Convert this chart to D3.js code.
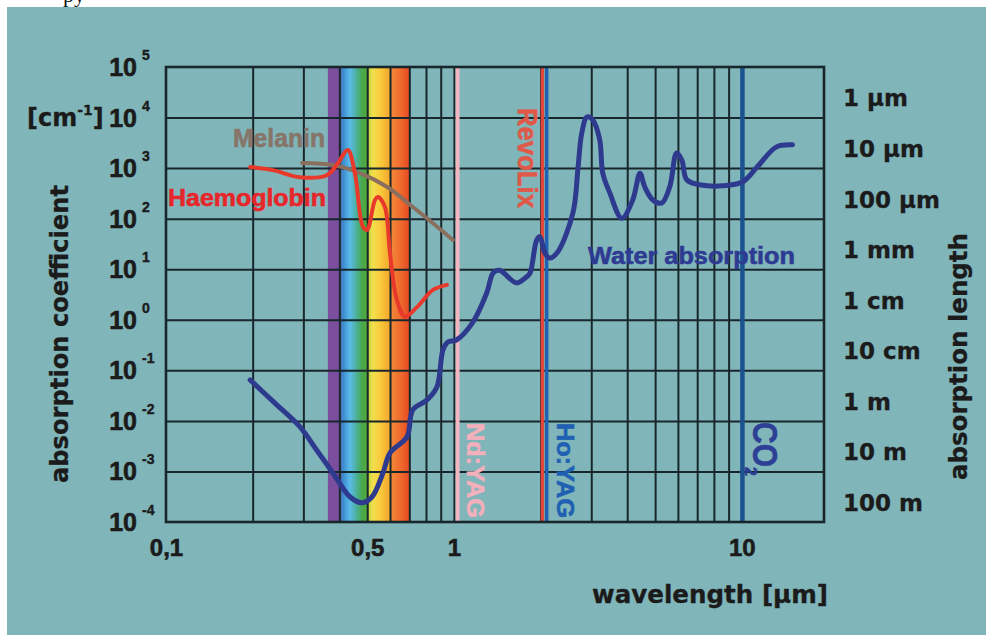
<!DOCTYPE html>
<html><head><meta charset="utf-8">
<script src="https://cdn.jsdelivr.net/npm/d3@7"></script>
<style>html,body{margin:0;padding:0;background:#fff}svg{display:block}</style>
</head><body>
<script>
// ---------------- DATA ----------------
const xTickValues = [0.1, 0.5, 1, 10];
const xTickLabels = ["0,1", "0,5", "1", "10"];
const yExponents = [5, 4, 3, 2, 1, 0, -1, -2, -3, -4];
const lengthValues = [1e4, 1e3, 1e2, 1e1, 1, 1e-1, 1e-2, 1e-3, 1e-4];
const lengthLabels = ["1 µm", "10 µm", "100 µm", "1 mm", "1 cm", "10 cm", "1 m", "10 m", "100 m"];
const gridXValues = [0.2,0.3,0.4,0.5,0.6,0.7,0.8,0.9,1,2,3,4,5,6,7,8,9,10];
const gridYValues = [1e-3,1e-2,1e-1,1,1e1,1e2,1e3,1e4];

// [wavelength µm, absorption coefficient cm^-1]
const water = [
  [0.196,0.0646],[0.239,0.0224],[0.292,0.00759],[0.334,0.00263],[0.38,0.000933],
  [0.435,0.000316],[0.48,0.00024],[0.52,0.000316],[0.567,0.000933],[0.60,0.00234],
  [0.687,0.00479],[0.72,0.0166],[0.805,0.0257],[0.873,0.0468],[0.916,0.251],
  [0.953,0.363],[1.02,0.398],[1.16,0.871],[1.30,3.39],[1.37,8.51],[1.44,9.55],
  [1.65,5.37],[1.79,7.08],[1.84,8.43],[1.94,38.0],[1.99,43.7],[2.07,20.9],
  [2.15,16.6],[2.28,20.9],[2.59,129],[2.70,1047],[2.78,4898],[2.90,10233],
  [3.04,8913],[3.21,3631],[3.29,794],[3.48,324],[3.83,102],[4.18,234],[4.43,794],
  [4.60,427],[4.91,234],[5.27,204],[5.62,427],[5.94,1995],[6.19,1445],[6.44,589],
  [7.15,468],[8.59,447],[10.07,537],[11.3,1047],[13.2,2630],[15.0,2884]
];
const haemoglobin = [
  [0.196,1047],[0.235,912],[0.292,661],[0.362,724],[0.396,1259],[0.428,2291],
  [0.453,794],[0.483,69.2],[0.499,60.3],[0.532,234],[0.545,269],[0.576,170],
  [0.60,20.9],[0.634,2.45],[0.676,1.15],[0.744,1.78],[0.846,3.89],[0.946,4.90]
];
const melanin = [
  [0.297,1259],[0.38,1148],[0.472,794],[0.585,427],[0.72,170],[0.846,81.3],[0.992,38.0]
];
const spectrumBands = [[0.365,0.40],[0.40,0.50],[0.50,0.60],[0.60,0.70]];
const laserNames = ["Nd:YAG", "RevoLix", "Ho:YAG", "CO2"];
const laserWavelengths = [1.03, 2.03, 2.10, 10.05];

// ---------------- LAYOUT / STYLE ----------------
const W = 986, H = 635;
const P = {left:166, right:824, top:67, bottom:522};
const BG = "#80b5ba", GRID = "#18272b";
const bandFills = ["#7b4f9d","url(#gBlue)","url(#gYellow)","url(#gRed)"];
const laserColors = ["#f2b6c0","#e2473a","#1f62b4","#1b5391"];
const laserWidths = [4, 3.5, 3.5, 4.5];

const x = d3.scaleLog().domain([0.1, 19.3]).range([P.left, P.right]);
const y = d3.scaleLog().domain([1e-4, 1e5]).range([P.bottom, P.top]);

const svg = d3.select("body").append("svg").attr("width", W).attr("height", H);

// cropped text artifact at the top
svg.append("text").attr("x", 63).attr("y", 2).attr("font-family", "Liberation Serif")
  .attr("font-size", 22).attr("fill", "#111").text("py");

svg.append("rect").attr("x", 7).attr("y", 7).attr("width", W - 7).attr("height", H - 7).attr("fill", BG);

// gradients
const defs = svg.append("defs");
function grad(id, stops) {
  const g = defs.append("linearGradient").attr("id", id).attr("x1", "0").attr("x2", "1").attr("y1", "0").attr("y2", "0");
  stops.forEach(s => g.append("stop").attr("offset", s[0]).attr("stop-color", s[1]));
}
grad("gBlue", [[0,"#5a5ea2"],[0.15,"#3d8fd2"],[0.38,"#5bbbe8"],[0.62,"#4bb09a"],[0.82,"#48a84c"],[1,"#55a83a"]]);
grad("gYellow", [[0,"#b9cf3e"],[0.25,"#f2e04c"],[0.6,"#f9c83a"],[1,"#f2a62c"]]);
grad("gRed", [[0,"#f28c3a"],[0.5,"#f06e2e"],[1,"#e64a22"]]);

// spectrum band
svg.append("g").selectAll("rect").data(spectrumBands).join("rect")
  .attr("x", d => x(d[0])).attr("width", d => x(d[1]) - x(d[0]))
  .attr("y", P.top).attr("height", P.bottom - P.top)
  .attr("fill", (d, i) => bandFills[i]);

// grid
const gx = svg.append("g").attr("transform", `translate(0,${P.bottom})`)
  .call(d3.axisBottom(x).tickValues(gridXValues).tickSize(-(P.bottom - P.top)).tickFormat(""));
gx.select(".domain").remove();
gx.selectAll("line").attr("stroke", GRID).attr("stroke-width", 2);
const gy = svg.append("g").attr("transform", `translate(${P.left},0)`)
  .call(d3.axisLeft(y).tickValues(gridYValues).tickSize(-(P.right - P.left)).tickFormat(""));
gy.select(".domain").remove();
gy.selectAll("line").attr("stroke", GRID).attr("stroke-width", 2);

// laser lines
svg.append("g").selectAll("line").data(laserWavelengths).join("line")
  .attr("x1", d => x(d)).attr("x2", d => x(d)).attr("y1", P.top).attr("y2", P.bottom)
  .attr("stroke", (d, i) => laserColors[i]).attr("stroke-width", (d, i) => laserWidths[i]);

// border
svg.append("rect").attr("x", P.left).attr("y", P.top).attr("width", P.right - P.left)
  .attr("height", P.bottom - P.top).attr("fill", "none").attr("stroke", GRID).attr("stroke-width", 2.6);

// curves
const line = d3.line().x(d => x(d[0])).y(d => y(d[1])).curve(d3.curveCatmullRom.alpha(0.5));
svg.append("path").datum(melanin).attr("d", line).attr("fill", "none")
  .attr("stroke", "#8a6f5e").attr("stroke-width", 4).attr("stroke-linecap", "round");
svg.append("path").datum(haemoglobin).attr("d", line).attr("fill", "none")
  .attr("stroke", "#e8392b").attr("stroke-width", 4).attr("stroke-linecap", "round").attr("stroke-linejoin", "round");
svg.append("path").datum(water).attr("d", line).attr("fill", "none")
  .attr("stroke", "#2d3a8e").attr("stroke-width", 5).attr("stroke-linecap", "round").attr("stroke-linejoin", "round");

// ---------------- TEXT ----------------
const SANS = "Liberation Sans, Arial, sans-serif";
const DJ = "DejaVu Sans, sans-serif";
function txt(g, opts) {
  const t = g.append("text").attr("font-weight", 700)
    .attr("font-family", opts.family || SANS).attr("font-size", opts.size)
    .attr("fill", opts.color || "#1b1b1b").attr("stroke", opts.color || "#1b1b1b")
    .attr("stroke-width", opts.sw == null ? 0.6 : opts.sw).attr("text-anchor", opts.anchor || "start");
  if (opts.transform) t.attr("transform", opts.transform); else t.attr("x", opts.x).attr("y", opts.y);
  if (opts.len) t.attr("textLength", opts.len).attr("lengthAdjust", "spacingAndGlyphs");
  t.text(opts.text);
  return t;
}

// x tick labels through d3 axis
const xa = svg.append("g").attr("transform", `translate(0,${P.bottom})`)
  .call(d3.axisBottom(x).tickValues(xTickValues).tickSize(0).tickPadding(16.6)
    .tickFormat((d, i) => xTickLabels[i]));
xa.select(".domain").remove();
xa.selectAll("text").attr("font-family", SANS).attr("font-weight", 700).attr("font-size", 24)
  .attr("fill", "#1b1b1b").attr("stroke", "#1b1b1b").attr("stroke-width", 0.6);

// y tick labels 10^n
const yl = svg.append("g");
yExponents.forEach(e => {
  const yy = y(Math.pow(10, e));
  txt(yl, {x: 137, y: yy + 9, size: 25, anchor: "end", text: "10"});
  txt(yl, {x: 142, y: yy - 7, size: 14, text: String(e), sw: 0.4});
});

// right labels
const rl = svg.append("g");
lengthValues.forEach((v, i) => {
  txt(rl, {x: 843, y: y(v) - 19.5 + 8.4, size: 23, family: DJ, text: lengthLabels[i], sw: 0.3});
});

// [cm-1]
const cm = svg.append("text").attr("x", 27).attr("y", 126).attr("font-family", DJ).attr("font-weight", 700)
  .attr("font-size", 24).attr("fill", "#1b1b1b").attr("stroke", "#1b1b1b").attr("stroke-width", 0.3);
cm.append("tspan").text("[cm");
cm.append("tspan").attr("font-size", 14).attr("dy", -11).text("-1");
cm.append("tspan").attr("dy", 11).text("]");

// axis titles
txt(svg, {transform: "translate(68,334) rotate(-90)", size: 25, family: DJ, anchor: "middle",
  len: 298, text: "absorption coefficient", sw: 0.3});
txt(svg, {transform: "translate(967,356.5) rotate(-90)", size: 25, family: DJ, anchor: "middle",
  len: 247, text: "absorption length", sw: 0.3});
txt(svg, {x: 592, y: 603, size: 24, family: DJ, len: 236, text: "wavelength [µm]", sw: 0.3});

// curve labels
txt(svg, {x: 233, y: 147, size: 25, len: 92, color: "#877569", text: "Melanin"});
txt(svg, {x: 168, y: 206, size: 24, len: 158, color: "#e6262a", text: "Haemoglobin"});
txt(svg, {x: 588, y: 264, size: 24, len: 207, color: "#2e3b92", text: "Water absorption"});

// laser labels (rotated 90°, reading downward)
txt(svg, {transform: "translate(467,423) rotate(90)", size: 23, len: 95, color: "#f2b0bc", text: laserNames[0]});
txt(svg, {transform: "translate(518,108) rotate(90)", size: 27, len: 100, color: "#e05848", text: laserNames[1]});
txt(svg, {transform: "translate(557,423) rotate(90)", size: 23, len: 95, color: "#1f60b2", text: laserNames[2]});
const co = svg.append("text").attr("transform", "translate(753,422) rotate(90)")
  .attr("font-family", SANS).attr("font-weight", 700).attr("font-size", 35)
  .attr("fill", "#2e3f96").attr("stroke", "#2e3f96").attr("stroke-width", 0.6);
co.append("tspan").attr("textLength", 45).attr("lengthAdjust", "spacingAndGlyphs").text("CO");
co.append("tspan").attr("font-size", 16).attr("dy", 8).text("2");
</script>
</body></html>
